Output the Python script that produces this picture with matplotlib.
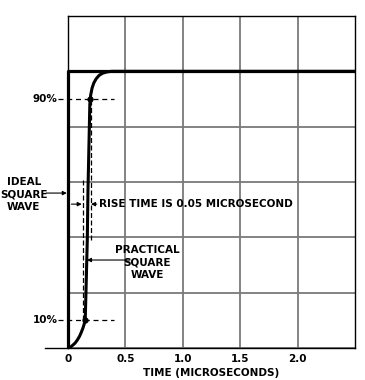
import matplotlib.pyplot as plt
from matplotlib.lines import Line2D

# ideal square wave (microseconds, fraction of full amplitude)
ideal_t = [0.0, 0.0, 2.5]
ideal_v = [0.0, 1.0, 1.0]

# practical square wave
prac_t = [0.01, 0.03, 0.06, 0.08, 0.10, 0.115, 0.13, 0.14, 0.15, 0.157,
          0.168, 0.174, 0.186, 0.19, 0.198, 0.21, 0.225, 0.245, 0.27,
          0.30, 0.34, 0.38, 0.43, 2.5]
prac_v = [0.0, 0.006, 0.017, 0.028, 0.042, 0.056, 0.072, 0.085, 0.10, 0.21,
          0.39, 0.57, 0.80, 0.88, 0.915, 0.94, 0.958, 0.973, 0.985,
          0.993, 0.998, 1.0, 1.0, 1.0]

# 10% / 90% points
pts_t = [0.15, 0.19]
pts_v = [0.10, 0.90]
pts_lab = ['10%', '90%']

xticks = [0, 0.5, 1.0, 1.5, 2.0]
xticklabels = ['0', '0.5', '1.0', '1.5', '2.0']
yticks = [0, 0.2, 0.4, 0.6, 0.8, 1.0, 1.2]

plt.rcParams['font.family'] = ['Liberation Sans Narrow', 'DejaVu Sans']
plt.rcParams['font.weight'] = 'bold'
FS = 7.5

fig = plt.figure(figsize=(3.65, 3.8), dpi=100)
ax = fig.add_axes([68/365, 32/380, 287/365, 332/380])
ax.set_xlim(0, 2.5)
ax.set_ylim(0, 1.2)

ax.set_xticks(xticks)
ax.set_xticklabels(xticklabels, fontsize=FS, fontweight='bold')
ax.set_yticks(yticks)
ax.set_yticklabels([])
ax.tick_params(length=0, pad=4)
ax.grid(True, color='#7a7a7a', lw=1.3)
for s in ax.spines.values():
    s.set_color('black')
    s.set_linewidth(1.0)

ax.set_xlabel('TIME (MICROSECONDS)', fontsize=FS, fontweight='bold', labelpad=3)

# extend x axis line to the left
ax.add_line(Line2D([-0.2, 0], [0, 0], color='black', lw=1.0, clip_on=False))

ax.plot(ideal_t, ideal_v, color='black', lw=2.3, solid_capstyle='butt', clip_on=False, zorder=5)
ax.plot(prac_t, prac_v, color='black', lw=2.2, zorder=5)
ax.plot(pts_t, pts_v, 'o', color='black', ms=3.5, zorder=6)

# dashed level lines with labels
for t, v, lab in zip(pts_t, pts_v, pts_lab):
    ax.add_line(Line2D([-0.09, 0.4], [v, v], color='black', lw=0.9,
                       ls=(0, (4, 3)), clip_on=False, zorder=4))
    ax.text(-0.09, v, lab, fontsize=FS, fontweight='bold', ha='right', va='center')

# rise-time dashed verticals
ax.plot([0.13, 0.13], [0.1, 0.61], color='black', lw=0.9, ls=(0, (4, 2)), zorder=4)
ax.plot([0.197, 0.197], [0.39, 0.9], color='black', lw=0.9, ls=(0, (4, 2)), zorder=4)

arrow = dict(arrowstyle='-|>', color='black', lw=0.8, mutation_scale=6, shrinkA=0, shrinkB=0)
ax.annotate('', xy=(0.12, 0.52), xytext=(0.03, 0.52), arrowprops=arrow)
ax.annotate('', xy=(0.2, 0.52), xytext=(0.25, 0.52), arrowprops=arrow)
ax.text(0.27, 0.52, 'RISE TIME IS 0.05 MICROSECOND', fontsize=FS, fontweight='bold',
        ha='left', va='center')

# ideal square wave label
ax.text(-0.385, 0.555, 'IDEAL\nSQUARE\nWAVE', fontsize=FS, fontweight='bold',
        ha='center', va='center', linespacing=1.3)
ax.annotate('', xy=(-0.01, 0.56), xytext=(-0.19, 0.56), arrowprops=arrow,
            annotation_clip=False)

# practical square wave label
ax.text(0.69, 0.31, 'PRACTICAL\nSQUARE\nWAVE', fontsize=FS, fontweight='bold',
        ha='center', va='center', linespacing=1.3)
ax.annotate('', xy=(0.165, 0.318), xytext=(0.54, 0.318), arrowprops=arrow)

fig.savefig('out.png', dpi=100)
